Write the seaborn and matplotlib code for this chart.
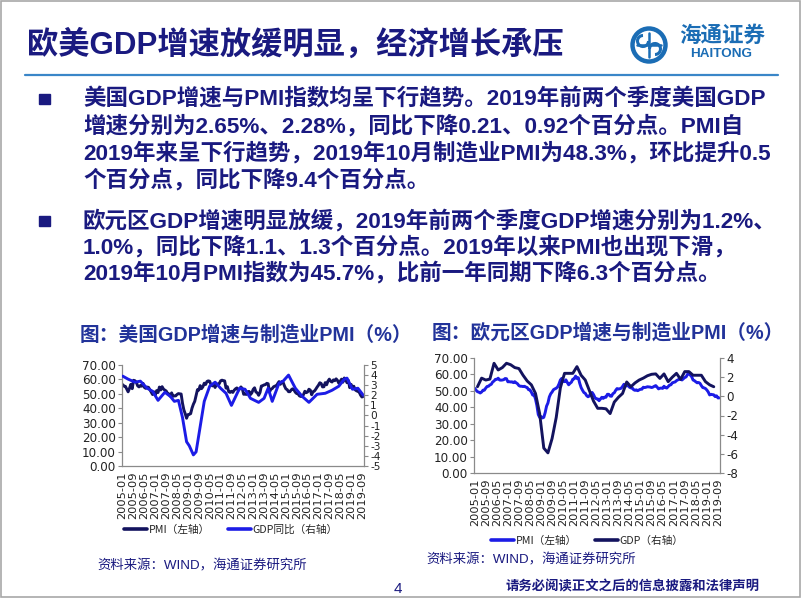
import numpy as np
import pandas as pd
import matplotlib
matplotlib.use('Agg')
import matplotlib.pyplot as plt
from matplotlib.patches import Rectangle, Circle, Arc
from matplotlib.lines import Line2D
from matplotlib.ticker import FormatStrFormatter
import seaborn as sns

sns.set_style('white')
plt.rcParams['font.family'] = ['DejaVu Sans']
plt.rcParams['axes.unicode_minus'] = False

# fonts: latin in Arial-like, CJK falls back to Noto
MIX = ['Liberation Sans', 'Noto Sans CJK SC']
CJK = ['Noto Sans CJK SC', 'DejaVu Sans']

# ---- data ----
months = pd.period_range('2005-01', '2019-10', freq='M').strftime('%Y-%m').tolist()

# US ISM manufacturing PMI (left axis), monthly 2005-01 .. 2019-10
us_pmi = [56.4, 55.3, 55.2, 53.3, 51.4, 53.8, 56.6, 53.6, 59.4, 59.1, 58.1, 55.6,
          54.8, 55.8, 55.3, 57.3, 54.4, 53.8, 54.7, 54.5, 52.9, 51.2, 49.5, 51.4,
          49.3, 52.3, 50.9, 54.7, 52.7, 55.0, 53.3, 52.6, 52.0, 50.4, 50.0, 48.4,
          50.7, 48.3, 48.6, 48.6, 49.6, 50.2, 50.0, 49.9, 43.5, 38.9, 36.2, 33.1,
          35.6, 35.8, 36.3, 40.1, 42.8, 44.8, 48.9, 52.9, 52.6, 55.7, 53.6, 54.9,
          57.4, 56.5, 58.6, 59.0, 58.7, 56.2, 55.5, 56.3, 54.4, 56.9, 56.6, 57.0,
          59.0, 59.5, 59.2, 59.0, 54.0, 55.0, 51.5, 51.0, 51.8, 51.0, 52.5, 53.5,
          54.1, 52.4, 53.4, 54.8, 53.5, 49.7, 49.8, 49.6, 51.5, 51.7, 49.5, 50.7,
          53.1, 54.2, 51.3, 50.7, 49.0, 50.9, 55.4, 55.7, 56.2, 56.4, 57.3, 57.0,
          51.3, 53.2, 53.7, 54.9, 55.4, 55.3, 57.1, 58.5, 56.6, 58.5, 58.0, 55.5,
          53.5, 52.9, 51.5, 51.5, 52.8, 53.5, 52.7, 51.1, 50.2, 50.1, 48.6, 48.2,
          48.2, 49.5, 51.8, 50.8, 51.3, 53.2, 52.6, 49.4, 51.5, 51.9, 53.2, 54.7,
          56.0, 57.7, 57.2, 54.8, 54.9, 57.8, 56.3, 58.8, 60.2, 58.7, 58.2, 59.7,
          59.1, 60.4, 59.3, 57.3, 58.7, 60.2, 58.1, 61.0, 59.8, 57.7, 59.3, 54.3,
          56.6, 54.2, 55.3, 52.8, 52.1, 51.7, 51.2, 49.1, 47.8, 48.3]

# US GDP yoy (right axis), read at month positions
us_gdp_month = [0, 4, 9, 13, 18, 22, 26, 31, 35, 38, 41, 44, 47, 49, 52, 54, 57, 60, 64, 68,
                72, 76, 80, 86, 90, 94, 100, 104, 107, 110, 115, 118, 122, 127, 132, 137, 143,
                149, 154, 159, 163, 165, 169, 173, 177]
us_gdp = [3.9, 3.6, 3.3, 3.4, 2.7, 2.4, 1.5, 2.3, 1.9, 1.4, 1.5, -0.2, -2.6, -3.0, -3.9, -3.6,
          -1.1, 1.4, 2.9, 3.3, 2.7, 2.2, 1.0, 2.7, 2.6, 1.7, 1.3, 1.7, 2.7, 1.4, 3.2, 3.4, 4.0,
          2.7, 1.9, 1.3, 2.1, 2.2, 2.5, 2.9, 3.6, 3.7, 2.6, 2.7, 2.0]

# Euro area manufacturing PMI (left axis), monthly
eu_pmi = [51.6, 50.4, 49.5, 49.2, 48.7, 49.3, 50.4, 50.4, 51.7, 52.7, 52.8, 53.6,
          54.0, 55.4, 56.0, 57.0, 57.0, 57.7, 56.6, 56.5, 56.6, 56.8, 57.5, 57.4,
          55.5, 55.6, 55.4, 55.5, 55.0, 55.6, 54.9, 54.3, 53.2, 52.8, 52.8, 52.6,
          52.8, 52.3, 52.0, 50.7, 50.6, 49.2, 47.4, 47.6, 45.0, 41.1, 35.6, 33.9,
          34.4, 33.5, 33.9, 36.8, 40.7, 42.6, 46.3, 48.2, 49.3, 50.7, 51.2, 51.6,
          52.4, 54.2, 56.6, 57.6, 55.8, 55.6, 56.7, 55.1, 53.7, 54.6, 55.3, 57.1,
          57.3, 59.0, 57.5, 58.0, 54.6, 52.0, 50.4, 49.0, 48.5, 47.1, 46.4, 46.9,
          48.8, 49.0, 47.7, 45.9, 45.1, 45.1, 44.0, 45.1, 46.1, 45.4, 46.2, 46.1,
          47.9, 47.9, 46.8, 46.7, 48.3, 48.8, 50.3, 51.4, 51.1, 51.3, 51.6, 52.7,
          54.0, 53.2, 53.0, 53.4, 52.2, 51.8, 51.8, 50.7, 50.3, 50.6, 50.1, 50.6,
          51.0, 51.0, 52.2, 52.0, 52.2, 52.5, 52.4, 52.3, 52.0, 52.3, 52.8, 53.2,
          52.3, 51.2, 51.6, 51.7, 51.5, 52.8, 52.0, 51.7, 52.6, 53.5, 53.7, 54.9,
          55.2, 55.4, 56.2, 56.7, 57.0, 57.4, 56.6, 57.4, 58.1, 58.5, 60.1, 60.6,
          59.6, 58.6, 56.6, 56.2, 55.5, 54.9, 55.1, 54.6, 53.2, 52.0, 51.8, 51.4,
          50.5, 49.3, 47.5, 47.9, 47.7, 47.6, 46.5, 47.0, 45.7, 45.7]

# Euro area GDP yoy (right axis), quarterly 2005Q1 .. 2019Q2
eu_gdp = [1.0, 1.9, 1.7, 1.8,
          3.45, 2.75, 3.0, 3.45,
          3.3, 3.0, 2.9, 2.2,
          1.6, 1.2, 0.3, -1.8,
          -5.4, -5.9, -4.4, -2.2,
          0.9, 2.4, 2.4, 2.4,
          3.1, 2.2, 1.7, 0.6,
          -0.5, -1.25, -1.25, -1.3,
          -1.8, -0.6, -0.1, 0.3,
          1.5, 1.0, 1.4, 1.7,
          1.9, 2.15, 2.3, 2.34,
          1.87, 2.34, 1.53, 2.0,
          2.4, 1.77, 2.58, 2.58,
          2.2, 2.2, 2.2, 1.53,
          1.2, 1.0]
eu_gdp_month = [3 * k + 2 for k in range(len(eu_gdp))]

title = '欧美GDP增速放缓明显，经济增长承压'
bullet1 = ['美国GDP增速与PMI指数均呈下行趋势。2019年前两个季度美国GDP',
           '增速分别为2.65%、2.28%，同比下降0.21、0.92个百分点。PMI自',
           '2019年来呈下行趋势，2019年10月制造业PMI为48.3%，环比提升0.5',
           '个百分点，同比下降9.4个百分点。']
bullet2 = ['欧元区GDP增速明显放缓，2019年前两个季度GDP增速分别为1.2%、',
           '1.0%，同比下降1.1、1.3个百分点。2019年以来PMI也出现下滑，',
           '2019年10月PMI指数为45.7%，比前一年同期下降6.3个百分点。']

TEXT = '#1a1a80'
CT = '#22339a'
NAVY = '#13135e'
BLUE = '#1c1ce6'
GRAY = '#8a8a8a'
LOGO = '#1b6db5'

W, H = 802, 602
fig = plt.figure(figsize=(W / 100, H / 100), dpi=100)

# page layer in pixel coords
bg = fig.add_axes([0, 0, 1, 1])
bg.set_xlim(0, W)
bg.set_ylim(H, 0)
bg.axis('off')
bg.add_patch(Rectangle((1, 1), W - 3, 596, fill=False, ec='#a8a8a8', lw=1.2))
bg.plot([25, 778], [74.5, 74.5], color='#3a86c8', lw=1.6)

bg.text(27, 45, title, family=MIX, weight='bold', fontsize=22.5, color=TEXT, va='center')

# logo
bg.add_patch(Circle((649, 45), 16.5, fill=False, ec=LOGO, lw=3.2))
bg.add_patch(Arc((643, 41), 11, 11, theta1=0, theta2=270, ec=LOGO, lw=2.2))
bg.add_patch(Arc((655, 49), 11, 11, theta1=180, theta2=450, ec=LOGO, lw=2.2))
bg.plot([649, 649], [33, 57], color=LOGO, lw=1.8)
bg.plot([637, 661], [45, 45], color=LOGO, lw=1.8)
bg.text(722, 35, '海通证券', family=CJK, weight='bold', fontsize=15.5, color=LOGO,
        ha='center', va='center', style='italic')
bg.text(721, 54, 'HAITONG', family='Liberation Sans', weight='bold', fontsize=9.7,
        color=LOGO, ha='center', va='center')

# bullets
for y0, lines, ys in [(93.5, bullet1, [99, 126, 153, 180]),
                      (215.5, bullet2, [221, 247, 273])]:
    bg.add_patch(Rectangle((38.5, y0), 11, 10, color=TEXT))
    for s, y in zip(lines, ys):
        bg.text(83, y, s, family=MIX, weight='bold', fontsize=16.2, color=TEXT, va='center')

bg.text(80, 335, '图：美国GDP增速与制造业PMI（%）', family=MIX, weight='bold',
        fontsize=14.2, color=CT, va='center')
bg.text(432, 333, '图：欧元区GDP增速与制造业PMI（%）', family=MIX, weight='bold',
        fontsize=14.2, color=CT, va='center')

bg.text(97, 566, '资料来源：WIND，海通证券研究所', family=MIX, fontsize=9.6, color=TEXT, va='center')
bg.text(426, 560, '资料来源：WIND，海通证券研究所', family=MIX, fontsize=9.6, color=TEXT, va='center')
bg.text(398, 589, '4', family='Liberation Sans', fontsize=11, color=TEXT, va='center', ha='center')
bg.text(506, 586, '请务必阅读正文之后的信息披露和法律声明', family=CJK, weight='bold',
        fontsize=9.6, color=TEXT, va='center')


def px_axes(left, top, right, bottom):
    return fig.add_axes([left / W, 1 - bottom / H, (right - left) / W, (bottom - top) / H])


def style_chart(ax, axr, rticks, rsize):
    ax.set_xlim(-0.5, 177.5)
    ax.set_ylim(0, 70)
    ax.set_yticks(range(0, 71, 10))
    ax.yaxis.set_major_formatter(FormatStrFormatter('%.2f'))
    ax.set_xticks(range(0, 178, 8))
    ax.set_xticklabels(months[::8], rotation=90)
    ax.set_xticks(range(4, 178, 8), minor=True)
    axr.set_ylim(rticks[0], rticks[-1])
    axr.set_yticks(rticks)
    for a in (ax, axr):
        a.set_xlabel('')
        a.set_ylabel('')
        a.spines['top'].set_visible(False)
        for sp in a.spines.values():
            sp.set_color(GRAY)
            sp.set_linewidth(0.9)
    ax.spines['right'].set_visible(False)
    axr.spines['left'].set_visible(False)
    axr.spines['bottom'].set_visible(False)
    ax.tick_params(axis='y', direction='out', length=3, width=0.8,
                   color=GRAY, labelsize=8.6, labelcolor='#222222', pad=1.5)
    ax.tick_params(axis='x', which='both', direction='out', length=3, width=0.8,
                   color=GRAY, labelsize=8.2, labelcolor='#222222', pad=1)
    axr.tick_params(axis='y', direction='out', length=3, width=0.8, color=GRAY,
                    labelsize=rsize, labelcolor='#222222', pad=1.5)
    ax.grid(False)
    axr.grid(False)


# left chart: US
ax1 = px_axes(122, 365, 364, 466)
sns.lineplot(x=np.arange(len(us_pmi)), y=us_pmi, ax=ax1, color=NAVY, lw=2.1)
ax1r = ax1.twinx()
sns.lineplot(x=us_gdp_month, y=us_gdp, ax=ax1r, color=BLUE, lw=2.1)
style_chart(ax1, ax1r, list(range(-5, 6)), 7.6)

# right chart: euro area
ax2 = px_axes(474, 358, 720, 473)
sns.lineplot(x=np.arange(len(eu_pmi)), y=eu_pmi, ax=ax2, color=BLUE, lw=2.1)
ax2r = ax2.twinx()
sns.lineplot(x=eu_gdp_month, y=eu_gdp, ax=ax2r, color=NAVY, lw=2.1)
style_chart(ax2, ax2r, list(range(-8, 5, 2)), 8.6)

# legends
leg_kw = dict(ncol=2, frameon=False, prop={'family': CJK, 'size': 7.7}, handlelength=2.15,
              handletextpad=0.15, columnspacing=1.7, borderpad=0, borderaxespad=0,
              loc='center left')
fig.legend([Line2D([], [], color=NAVY, lw=2.6), Line2D([], [], color=BLUE, lw=2.6)],
           ['PMI（左轴）', 'GDP同比（右轴）'], bbox_to_anchor=(124 / W, 1 - 530 / H), **leg_kw)
fig.legend([Line2D([], [], color=BLUE, lw=2.6), Line2D([], [], color=NAVY, lw=2.6)],
           ['PMI（左轴）', 'GDP（右轴）'], bbox_to_anchor=(491 / W, 1 - 541 / H), **leg_kw)

fig.savefig('out.png', dpi=100)
